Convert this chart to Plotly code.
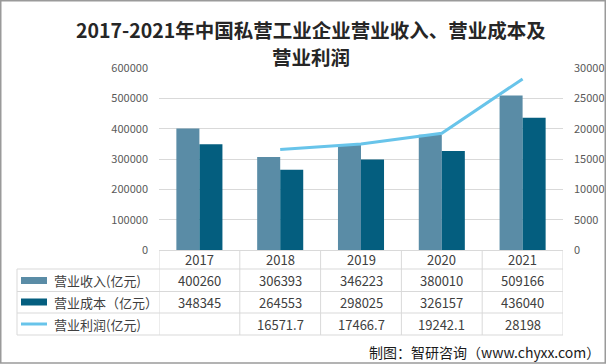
import plotly.graph_objects as go

years = ["2017", "2018", "2019", "2020", "2021"]
revenue = [400260, 306393, 346223, 380010, 509166]
cost = [348345, 264553, 298025, 326157, 436040]
profit = [None, 16571.7, 17466.7, 19242.1, 28198]
revenue_text = ["400260", "306393", "346223", "380010", "509166"]
cost_text = ["348345", "264553", "298025", "326157", "436040"]
profit_text = ["", "16571.7", "17466.7", "19242.1", "28198"]
series_names = ["营业收入(亿元)", "营业成本（亿元）", "营业利润(亿元)"]

C_REV = "#5a8ca6"
C_COST = "#045e7f"
C_PROF = "#68c4ea"
GRID = "#d9d9d9"
TXT = "#404040"
FONT = "Noto Sans CJK SC, Liberation Sans, sans-serif"

W, H = 606, 364
PX0, PX1, PY0, PY1 = 159, 563, 68, 250


def fx(X):
    return (X - PX0) / (PX1 - PX0)


def fy(Y):
    return (PY1 - Y) / (PY1 - PY0)


fig = go.Figure()
fig.add_trace(go.Bar(x=years, y=revenue, name=series_names[0], marker_color=C_REV,
                     marker_line_width=0))
fig.add_trace(go.Bar(x=years, y=cost, name=series_names[1], marker_color=C_COST,
                     marker_line_width=0))
fig.add_trace(go.Scatter(x=years, y=profit, name=series_names[2], mode="lines",
                         line=dict(color=C_PROF, width=3), yaxis="y2",
                         connectgaps=False))

shapes = []
annotations = []

# table lines
row_lines = [269, 291.5, 313, 335]
for Y in row_lines:
    shapes.append(dict(type="line", xref="paper", yref="paper", x0=fx(17), x1=1,
                       y0=fy(Y), y1=fy(Y), line=dict(color=GRID, width=1)))
for i in range(len(years) + 1):
    shapes.append(dict(type="line", xref="x", yref="paper", x0=i - 0.5, x1=i - 0.5,
                       y0=fy(250), y1=fy(335), line=dict(color=GRID, width=1)))
shapes.append(dict(type="line", xref="paper", yref="paper", x0=fx(17), x1=fx(17),
                   y0=fy(269), y1=fy(335), line=dict(color=GRID, width=1)))

# header years
for i, yr in enumerate(years):
    annotations.append(dict(x=i, y=fy(259.5), xref="x", yref="paper", text=yr,
                            xanchor="center", yanchor="middle",
                            showarrow=False, font=dict(size=13, color=TXT, family=FONT)))

row_centers = [280.5, 302, 324]
row_texts = [revenue_text, cost_text, profit_text]
for r, (Yc, texts) in enumerate(zip(row_centers, row_texts)):
    for i, t in enumerate(texts):
        if t:
            annotations.append(dict(x=i, y=fy(Yc), xref="x", yref="paper", text=t,
                                    xanchor="center", yanchor="middle",
                                    showarrow=False,
                                    font=dict(size=13, color=TXT, family=FONT)))
    annotations.append(dict(x=fx(52), y=fy(Yc), xref="paper", yref="paper",
                            text=series_names[r], xanchor="left", yanchor="middle",
                            showarrow=False,
                            font=dict(size=13, color=TXT, family=FONT)))

# legend keys
shapes.append(dict(type="rect", xref="paper", yref="paper", x0=fx(21), x1=fx(47),
                   y0=fy(277), y1=fy(284), fillcolor=C_REV, line_width=0))
shapes.append(dict(type="rect", xref="paper", yref="paper", x0=fx(21), x1=fx(47),
                   y0=fy(298.5), y1=fy(305.5), fillcolor=C_COST, line_width=0))
shapes.append(dict(type="line", xref="paper", yref="paper", x0=fx(21), x1=fx(47),
                   y0=fy(324), y1=fy(324), line=dict(color=C_PROF, width=3)))

# outer border
shapes.append(dict(type="rect", xref="paper", yref="paper", x0=fx(0.75), x1=fx(605.25),
                   y0=fy(0.75), y1=fy(363), line=dict(color="#9a9a9a", width=1.5)))

# title
annotations.append(dict(x=fx(311), y=fy(29), xref="paper", yref="paper",
                        text="<b>2017-2021年中国私营工业企业营业收入、营业成本及</b>",
                        xanchor="center", yanchor="middle",
                        showarrow=False, font=dict(size=19.5, color="#262626", family=FONT)))
annotations.append(dict(x=fx(311), y=fy(56), xref="paper", yref="paper",
                        text="<b>营业利润</b>", xanchor="center", yanchor="middle",
                        showarrow=False, font=dict(size=19.5, color="#262626", family=FONT)))
# source
annotations.append(dict(x=fx(602), y=fy(352), xref="paper", yref="paper",
                        text="制图：智研咨询（www.chyxx.com）", xanchor="right",
                        yanchor="middle",
                        showarrow=False, font=dict(size=14, color="#1a1a1a", family=FONT)))

fig.update_layout(
    width=W, height=H,
    margin=dict(l=PX0, r=W - PX1, t=PY0, b=H - PY1, pad=0, autoexpand=False),
    paper_bgcolor="white", plot_bgcolor="white",
    barmode="group", bargap=0.43, bargroupgap=0,
    showlegend=False, hovermode=False,
    font=dict(family=FONT, color="#595959"),
    xaxis=dict(type="category", range=[-0.5, 4.5], showticklabels=False,
               showline=True, linecolor=GRID, linewidth=1, showgrid=False,
               ticks="", fixedrange=True, automargin=False),
    yaxis=dict(range=[0, 600000], dtick=100000, showgrid=True, gridcolor=GRID,
               gridwidth=1, zeroline=False, showline=False, ticks="",
               tickfont=dict(size=11, color="#595959", family=FONT),
               ticklabelstandoff=10, tickformat="d", automargin=False),
    yaxis2=dict(range=[0, 30000], dtick=5000, overlaying="y", side="right",
                showgrid=False, zeroline=False, showline=False, ticks="",
                tickfont=dict(size=11, color="#595959", family=FONT),
                ticklabelstandoff=10, tickformat="d", automargin=False),
    shapes=shapes,
    annotations=annotations,
)

fig.write_html("out.html", config={"displayModeBar": False},
               post_script="document.body.style.margin='0';")
